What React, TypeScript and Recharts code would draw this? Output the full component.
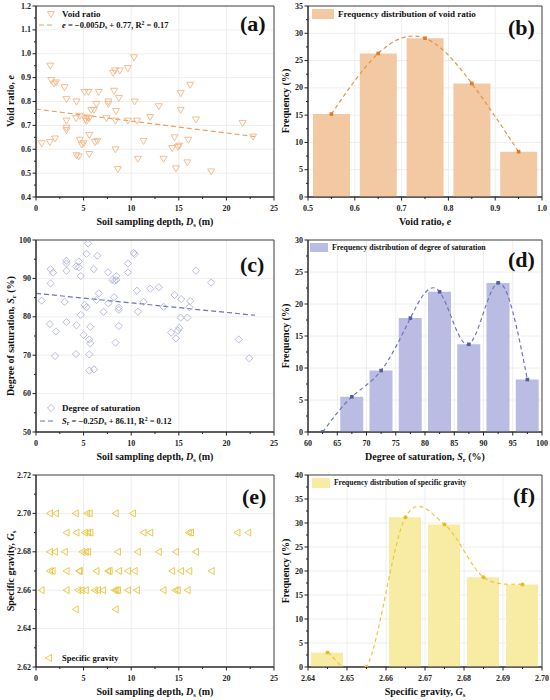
import React from 'react';
import {
  ScatterChart, Scatter, ComposedChart, Bar, Line, XAxis, YAxis,
  CartesianGrid, ReferenceLine, ReferenceArea,
} from 'recharts';

const FONT = '"Liberation Serif", "Times New Roman", serif';

// ---------- (a) void ratio vs depth ----------
const aDepth = [1.5, 1.6, 1.9, 2.1, 3.0, 3.2, 4.25, 5.1, 5.5, 6.6, 8.1, 8.3, 8.8, 9.65, 10.3, 8.2, 8.7, 10.35, 7.6, 7.6, 6.35, 5.8, 6.1, 8.4, 12.9, 15.2, 16.2, 15.2, 16.8, 12.0, 10.6, 9.65, 8.35, 7.4, 3.2, 4.2, 4.6, 5.37, 5.2, 5.3, 5.6, 3.2, 3.2, 4.6, 4.8, 5.0, 5.6, 6.2, 6.45, 1.46, 0.6, 2.0, 4.25, 4.5, 5.6, 8.35, 11.3, 14.55, 14.3, 14.9, 15.05, 16.0, 13.4, 10.7, 15.9, 14.7, 8.6, 18.4, 21.7, 22.8];
const aVoid = [0.95, 0.89, 0.875, 0.88, 0.86, 0.81, 0.8, 0.84, 0.84, 0.84, 0.92, 0.93, 0.93, 0.94, 0.985, 0.845, 0.815, 0.8, 0.8, 0.79, 0.79, 0.765, 0.765, 0.76, 0.78, 0.835, 0.87, 0.765, 0.725, 0.735, 0.72, 0.72, 0.72, 0.73, 0.72, 0.73, 0.74, 0.733, 0.725, 0.718, 0.73, 0.69, 0.68, 0.64, 0.62, 0.625, 0.66, 0.63, 0.635, 0.63, 0.625, 0.645, 0.575, 0.57, 0.58, 0.6, 0.635, 0.65, 0.605, 0.61, 0.615, 0.64, 0.56, 0.56, 0.545, 0.52, 0.517, 0.507, 0.71, 0.653];
const aFitX = [0, 23];
const aFitY = [0.768, 0.653];

// ---------- (b) void ratio histogram ----------
const bCenters = [0.55, 0.65, 0.75, 0.85, 0.95];
const bFreq = [15.2, 26.3, 29.1, 20.8, 8.3];

// ---------- (c) saturation vs depth ----------
const cDepth = [5.47, 1.53, 1.8, 3.2, 3.2, 3.2, 4.5, 4.2, 4.5, 5.3, 6.45, 4.7, 6.07, 7.57, 8.0, 8.26, 8.44, 8.44, 9.66, 9.66, 10.25, 10.36, 1.53, 10.6, 12.0, 12.9, 16.8, 18.4, 14.55, 15.25, 16.2, 16.1, 11.3, 13.4, 10.7, 8.7, 8.7, 8.2, 7.1, 6.6, 6.35, 3.0, 0.6, 5.1, 5.3, 4.7, 7.6, 15.2, 15.9, 1.46, 3.2, 4.25, 5.7, 8.7, 15.05, 14.9, 14.2, 14.7, 2.1, 5.0, 5.6, 5.7, 8.35, 21.3, 22.4, 4.2, 2.0, 5.6, 5.6, 6.1];
const cSat = [99.1, 92.4, 91.5, 94.6, 93.9, 92.0, 94.4, 93.1, 92.9, 96.4, 95.9, 90.6, 92.4, 91.6, 89.6, 89.4, 90.6, 89.6, 93.9, 91.6, 96.7, 96.3, 88.7, 86.8, 87.3, 87.7, 92.0, 88.9, 85.7, 84.6, 84.1, 82.5, 83.9, 82.6, 81.3, 82.4, 81.8, 85.1, 81.3, 86.1, 84.4, 83.9, 84.2, 83.1, 82.5, 80.5, 83.5, 79.8, 79.8, 78.1, 78.6, 77.8, 77.4, 77.6, 77.1, 76.4, 75.9, 74.4, 76.2, 75.3, 74.1, 73.1, 73.3, 74.1, 69.2, 70.3, 69.8, 70.2, 66.0, 66.3];
const cFitX = [0, 23];
const cFitY = [86.1, 80.4];

// ---------- (d) saturation histogram ----------
const dCenters = [62.5, 67.5, 72.5, 77.5, 82.5, 87.5, 92.5, 97.5];
const dFreq = [0, 5.5, 9.6, 17.8, 21.9, 13.7, 23.3, 8.2];

// ---------- (e) specific gravity vs depth ----------
const eDepth = [1.46, 2.09, 4.18, 5.37, 5.65, 8.37, 10.18,
  3.21, 4.25, 5.13, 5.47, 5.72, 11.3, 12.0, 16.04, 16.28, 21.16, 22.3,
  1.46, 1.99, 3.03, 4.88, 5.23, 5.47, 8.61, 10.7, 12.9, 14.7, 16.8,
  1.46, 1.74, 3.21, 4.53, 4.6, 6.35, 7.57, 7.74, 8.72, 9.66, 10.36, 14.3, 15.24, 16.1, 18.45,
  0.59, 3.21, 4.43, 4.78, 5.23, 6.17, 6.52, 7.04, 8.26, 8.44, 8.61, 9.66, 10.6, 13.4, 14.64, 14.89, 15.93,
  4.18, 8.37];
const eGs = [2.70, 2.70, 2.70, 2.70, 2.70, 2.70, 2.70,
  2.69, 2.69, 2.69, 2.69, 2.69, 2.69, 2.69, 2.69, 2.69, 2.69, 2.69,
  2.68, 2.68, 2.68, 2.68, 2.68, 2.68, 2.68, 2.68, 2.68, 2.68, 2.68,
  2.67, 2.67, 2.67, 2.67, 2.67, 2.67, 2.67, 2.67, 2.67, 2.67, 2.67, 2.67, 2.67, 2.67, 2.67,
  2.66, 2.66, 2.66, 2.66, 2.66, 2.66, 2.66, 2.66, 2.66, 2.66, 2.66, 2.66, 2.66, 2.66, 2.66, 2.66, 2.66,
  2.65, 2.65];

// ---------- (f) specific gravity histogram ----------
const fCenters = [2.645, 2.655, 2.665, 2.675, 2.685, 2.695];
const fFreq = [3.0, 0, 31.2, 29.7, 18.7, 17.2];

// ---------- tick labels ----------
const depthTicks = [0, 5, 10, 15, 20, 25];
const aYTicks = [0.4, 0.5, 0.6, 0.7, 0.8, 0.9, 1.0, 1.1, 1.2];
const bXTicks = [0.5, 0.6, 0.7, 0.8, 0.9, 1.0];
const bYTicks = [0, 5, 10, 15, 20, 25, 30, 35];
const cYTicks = [50, 60, 70, 80, 90, 100];
const dXTicks = [60, 65, 70, 75, 80, 85, 90, 95, 100];
const dYTicks = [0, 5, 10, 15, 20, 25, 30];
const eYTicks = [2.62, 2.64, 2.66, 2.68, 2.70, 2.72];
const fXTicks = [2.64, 2.65, 2.66, 2.67, 2.68, 2.69, 2.70];
const fYTicks = [0, 5, 10, 15, 20, 25, 30, 35, 40];

// colours
const C = {
  axis: '#222',
  grid: '#eeeeee',
  aMark: '#f3b784', aLine: '#eea062',
  bBar: '#f2c9a3', bLine: '#e6924a', bDot: '#de7a2a',
  cMark: '#b0b3df', cLine: '#6e72b8',
  dBar: '#babce4', dLine: '#7175ba', dDot: '#575ba5',
  eMark: '#e9c43c',
  fBar: '#f8eba4', fLine: '#eac842', fDot: '#e2bc22',
};

const zip = (xs: number[], ys: number[]) => xs.map((x, i) => ({ x, y: ys[i] }));
const aData = zip(aDepth, aVoid);
const cData = zip(cDepth, cSat);
const eData = zip(eDepth, eGs);
const toF = (xs: number[], ys: number[]) => xs.map((x, i) => ({ x, f: ys[i] }));
const bData = toF(bCenters, bFreq);
const dData = toF(dCenters, dFreq);
const fData = toF(fCenters, fFreq);

// Catmull-Rom style curve factory (d3 curve interface) for the (f) fitted line
function catmullRom(context: any) {
  let pts: [number, number][] = [];
  return {
    areaStart() {},
    areaEnd() {},
    lineStart() { pts = []; },
    lineEnd() {
      const n = pts.length;
      if (n === 0) return;
      context.moveTo(pts[0][0], pts[0][1]);
      for (let i = 0; i < n - 1; i++) {
        const p0 = pts[i === 0 ? 0 : i - 1];
        const p1 = pts[i];
        const p2 = pts[i + 1];
        const p3 = pts[i + 2 < n ? i + 2 : n - 1];
        context.bezierCurveTo(
          p1[0] + (p2[0] - p0[0]) / 6, p1[1] + (p2[1] - p0[1]) / 6,
          p2[0] - (p3[0] - p1[0]) / 6, p2[1] - (p3[1] - p1[1]) / 6,
          p2[0], p2[1],
        );
      }
    },
    point(x: number, y: number) { pts.push([+x, +y]); },
  };
}

function withMinors(majors: number[]) {
  const out: number[] = [];
  majors.forEach((m, i) => {
    out.push(m);
    if (i < majors.length - 1) out.push(+((m + majors[i + 1]) / 2).toFixed(6));
  });
  return out;
}
const isIn = (arr: number[], v: number) => arr.some((m) => Math.abs(m - v) < 1e-7);

function yTick(majors: number[], dec: number) {
  return (props: any) => {
    const { x, y, payload } = props;
    const v = payload.value;
    const major = isIn(majors, v);
    return (
      <g>
        <line x1={x} x2={x - (major ? 3.5 : 2)} y1={y} y2={y} stroke={C.axis} strokeWidth={1} />
        {major && (
          <text x={x - 5} y={y} textAnchor="end" dominantBaseline="central"
            fontFamily={FONT} fontWeight="bold" fontSize={8} fill={C.axis}>
            {v.toFixed(dec)}
          </text>
        )}
      </g>
    );
  };
}
function xTick(majors: number[], dec: number) {
  return (props: any) => {
    const { x, y, payload } = props;
    const v = payload.value;
    const major = isIn(majors, v);
    return (
      <g>
        <line x1={x} x2={x} y1={y} y2={y + (major ? 3.5 : 2)} stroke={C.axis} strokeWidth={1} />
        {major && (
          <text x={x} y={y + 14} textAnchor="middle"
            fontFamily={FONT} fontWeight="bold" fontSize={8} fill={C.axis}>
            {v.toFixed(dec)}
          </text>
        )}
      </g>
    );
  };
}

const triDown = (color: string) => (p: any) => (
  <path d={`M${p.cx - 3.5},${p.cy - 2.5} L${p.cx + 3.5},${p.cy - 2.5} L${p.cx},${p.cy + 3.5} Z`}
    fill="none" stroke={color} strokeWidth={0.9} />
);
const diamond = (color: string) => (p: any) => (
  <path d={`M${p.cx},${p.cy - 3.6} L${p.cx + 3.6},${p.cy} L${p.cx},${p.cy + 3.6} L${p.cx - 3.6},${p.cy} Z`}
    fill="none" stroke={color} strokeWidth={0.9} />
);
const triLeft = (color: string) => (p: any) => (
  <path d={`M${p.cx - 3.5},${p.cy} L${p.cx + 2.5},${p.cy - 3.5} L${p.cx + 2.5},${p.cy + 3.5} Z`}
    fill="none" stroke={color} strokeWidth={0.9} />
);
const squareDot = (color: string) => (p: any) => (
  <rect key={`d${p.index}`} x={p.cx - 1.8} y={p.cy - 1.8} width={3.6} height={3.6} fill={color} />
);
const circleDot = (color: string) => (p: any) => (
  <circle key={`d${p.index}`} cx={p.cx} cy={p.cy} r={2} fill={color} />
);

type PanelGeom = { left: number; top: number; width: number; height: number; margin: any; yW: number };
const ROW1 = { top: 0, mt: 6, ph: 191 };
const ROW2 = { top: 230, mt: 10, ph: 192 };
const ROW3 = { top: 465, mt: 10, ph: 192 };
const geom = (col: number, row: { top: number; mt: number; ph: number }): PanelGeom => ({
  left: col === 0 ? 0 : 275,
  top: row.top,
  width: col === 0 ? 290 : 275,
  height: row.mt + row.ph + 20 + 5,
  margin: { top: row.mt, right: col === 0 ? 16 : 8, bottom: 5, left: 0 },
  yW: col === 0 ? 36 : 33,
});

function ScatterPanel(props: {
  g: PanelGeom; data: any[]; shape: any; yDomain: [number, number]; yMajors: number[]; yDec: number;
  fitX: number[]; fitY: number[] | null; lineColor?: string;
}) {
  const { g, data, shape, yDomain, yMajors, yDec, fitX, fitY, lineColor } = props;
  return (
    <div style={{ position: 'absolute', left: g.left, top: g.top }}>
      <ScatterChart width={g.width} height={g.height} margin={g.margin}>
        <CartesianGrid stroke={C.grid} horizontalValues={yMajors} verticalValues={depthTicks} />
        <XAxis type="number" dataKey="x" domain={[0, 25]} ticks={withMinors(depthTicks)} interval={0}
          tickSize={0} tickMargin={0} tickLine={false} height={20}
          axisLine={{ stroke: C.axis }} tick={xTick(depthTicks, 0)} allowDataOverflow />
        <YAxis type="number" dataKey="y" domain={yDomain} ticks={withMinors(yMajors)} interval={0}
          tickSize={0} tickMargin={0} tickLine={false} width={g.yW}
          axisLine={{ stroke: C.axis }} tick={yTick(yMajors, yDec)} allowDataOverflow />
        <ReferenceArea x1={0} x2={25} y1={yDomain[0]} y2={yDomain[1]} fill="none" stroke="#444" strokeWidth={1} ifOverflow="visible" />
        <Scatter data={data} shape={shape} isAnimationActive={false} />
        {fitY && (
          <ReferenceLine segment={[{ x: fitX[0], y: fitY[0] }, { x: fitX[1], y: fitY[1] }]}
            stroke={lineColor} strokeWidth={1.2} strokeDasharray="5 3" ifOverflow="visible" />
        )}
      </ScatterChart>
    </div>
  );
}

function HistPanel(props: {
  g: PanelGeom; data: any[]; curveType: any; xDomain: [number, number]; xMajors: number[]; xDec: number;
  yMajors: number[]; barSize: number; barColor: string; lineColor: string; dot: any;
}) {
  const { g, data, curveType, xDomain, xMajors, xDec, yMajors, barSize, barColor, lineColor, dot } = props;
  const yDomain: [number, number] = [yMajors[0], yMajors[yMajors.length - 1]];
  return (
    <div style={{ position: 'absolute', left: g.left, top: g.top }}>
      <ComposedChart width={g.width} height={g.height} margin={g.margin} data={data}>
        <CartesianGrid stroke={C.grid} horizontalValues={yMajors} verticalValues={xMajors} />
        <XAxis type="number" dataKey="x" domain={xDomain} ticks={withMinors(xMajors)} interval={0}
          tickSize={0} tickMargin={0} tickLine={false} height={20}
          axisLine={{ stroke: C.axis }} tick={xTick(xMajors, xDec)} allowDataOverflow />
        <YAxis type="number" domain={yDomain} ticks={withMinors(yMajors)} interval={0}
          tickSize={0} tickMargin={0} tickLine={false} width={g.yW}
          axisLine={{ stroke: C.axis }} tick={yTick(yMajors, 0)} allowDataOverflow />
        <Bar dataKey="f" fill={barColor} barSize={barSize} isAnimationActive={false} />
        <Line dataKey="f" type={curveType} stroke={lineColor} strokeWidth={1.2} strokeDasharray="4 3"
          dot={dot} activeDot={false} isAnimationActive={false} />
        <ReferenceArea x1={xDomain[0]} x2={xDomain[1]} y1={yDomain[0]} y2={yDomain[1]} fill="none" stroke="#444" strokeWidth={1} ifOverflow="visible" />
      </ComposedChart>
    </div>
  );
}

const base: React.CSSProperties = {
  position: 'absolute', fontFamily: FONT, fontWeight: 'bold', lineHeight: 1,
  whiteSpace: 'nowrap', color: '#111',
};
const Sub = ({ children }: any) => (
  <span style={{ fontSize: '0.68em', verticalAlign: '-0.3em', lineHeight: 0 }}>{children}</span>
);
const Sup = ({ children }: any) => (
  <span style={{ fontSize: '0.68em', verticalAlign: '0.45em', lineHeight: 0 }}>{children}</span>
);
const TL = ({ x, y, size, children }: any) => (
  <div style={{ ...base, left: x, top: y, fontSize: size, transform: 'translateY(-50%)' }}>{children}</div>
);
const TC = ({ x, y, size, children }: any) => (
  <div style={{ ...base, left: x, top: y, fontSize: size, transform: 'translate(-50%,-50%)' }}>{children}</div>
);
const TV = ({ x, y, size, children }: any) => (
  <div style={{ ...base, left: x, top: y, fontSize: size, transform: 'translate(-50%,-50%) rotate(-90deg)' }}>{children}</div>
);
const Icon = ({ x, y, w, h, children }: any) => (
  <svg style={{ position: 'absolute', left: x, top: y, overflow: 'visible' }} width={w} height={h}>{children}</svg>
);

export default function App() {
  const ga = geom(0, ROW1), gb = geom(1, ROW1);
  const gc = geom(0, ROW2), gd = geom(1, ROW2);
  const ge = geom(0, ROW3), gf = geom(1, ROW3);
  return (
    <div style={{ position: 'absolute', left: 0, top: 0, width: 550, height: 700, background: '#fff', overflow: 'hidden' }}>
      <HistPanel g={gb} data={bData} curveType="natural" xDomain={[0.5, 1.0]} xMajors={bXTicks} xDec={1} yMajors={bYTicks}
        barSize={37} barColor={C.bBar} lineColor={C.bLine} dot={squareDot(C.bDot)} />
      <HistPanel g={gd} data={dData} curveType="natural" xDomain={[60, 100]} xMajors={dXTicks} xDec={0} yMajors={dYTicks}
        barSize={23} barColor={C.dBar} lineColor={C.dLine} dot={squareDot(C.dDot)} />
      <HistPanel g={gf} data={fData} curveType={catmullRom} xDomain={[2.64, 2.70]} xMajors={fXTicks} xDec={2} yMajors={fYTicks}
        barSize={32} barColor={C.fBar} lineColor={C.fLine} dot={circleDot(C.fDot)} />
      <ScatterPanel g={ga} data={aData} shape={triDown(C.aMark)} yDomain={[0.4, 1.2]} yMajors={aYTicks} yDec={1}
        fitX={aFitX} fitY={aFitY} lineColor={C.aLine} />
      <ScatterPanel g={gc} data={cData} shape={diamond(C.cMark)} yDomain={[50, 100]} yMajors={cYTicks} yDec={0}
        fitX={cFitX} fitY={cFitY} lineColor={C.cLine} />
      <ScatterPanel g={ge} data={eData} shape={triLeft(C.eMark)} yDomain={[2.62, 2.72]} yMajors={eYTicks} yDec={2}
        fitX={[0, 0]} fitY={null} />

      {/* axis titles */}
      <TV x={11} y={101} size={10}>Void ratio, <i>e</i></TV>
      <TC x={155} y={222} size={10}>Soil sampling depth, <i>D</i><Sub>s</Sub> (m)</TC>
      <TV x={286} y={101} size={10}>Frequency (%)</TV>
      <TC x={425} y={222} size={10}>Void ratio, <i>e</i></TC>

      <TV x={11} y={336} size={10}>Degree of saturation, <i>S</i><Sub>r</Sub> (%)</TV>
      <TC x={155} y={457} size={10}>Soil sampling depth, <i>D</i><Sub>s</Sub> (m)</TC>
      <TV x={286} y={336} size={10}>Frequency (%)</TV>
      <TC x={425} y={457} size={10}>Degree of saturation, <i>S</i><Sub>r</Sub> (%)</TC>

      <TV x={11} y={571} size={10}>Specific gravity, <i>G</i><Sub>s</Sub></TV>
      <TC x={155} y={692} size={10}>Soil sampling depth, <i>D</i><Sub>s</Sub> (m)</TC>
      <TV x={286} y={571} size={10}>Frequency (%)</TV>
      <TC x={425} y={692} size={10}>Specific gravity, <i>G</i><Sub>s</Sub></TC>

      {/* panel letters */}
      <TL x={240} y={24} size={22}>(a)</TL>
      <TL x={508} y={28} size={22}>(b)</TL>
      <TL x={240} y={265} size={22}>(c)</TL>
      <TL x={508} y={260} size={22}>(d)</TL>
      <TL x={242} y={497} size={22}>(e)</TL>
      <TL x={513} y={496} size={22}>(f)</TL>

      {/* legend (a) */}
      <Icon x={47} y={10} w={8} h={8}>
        <path d="M0.5,1.5 L7.5,1.5 L4,7.5 Z" fill="none" stroke={C.aMark} strokeWidth={0.9} />
      </Icon>
      <TL x={62} y={14} size={9}>Void ratio</TL>
      <Icon x={39} y={24} w={16} h={2}>
        <line x1={0} x2={16} y1={1} y2={1} stroke={C.aLine} strokeWidth={1.2} strokeDasharray="5 3" />
      </Icon>
      <TL x={62} y={25} size={8.5}><i>e</i> = −0.005<i>D</i><Sub>s</Sub> + 0.77, R<Sup>2</Sup> = 0.17</TL>

      {/* legend (b) */}
      <div style={{ position: 'absolute', left: 312, top: 9, width: 22, height: 10, background: C.bBar }} />
      <TL x={338} y={14} size={9}>Frequency distribution of void ratio</TL>

      {/* legend (c) */}
      <Icon x={47} y={404} w={8} h={8}>
        <path d="M4,0.4 L7.6,4 L4,7.6 L0.4,4 Z" fill="none" stroke={C.cMark} strokeWidth={0.9} />
      </Icon>
      <TL x={62} y={408} size={9}>Degree of saturation</TL>
      <Icon x={40} y={420} w={15} h={2}>
        <line x1={0} x2={15} y1={1} y2={1} stroke={C.cLine} strokeWidth={1.2} strokeDasharray="5 3" />
      </Icon>
      <TL x={62} y={421} size={8.5}><i>S</i><Sub>r</Sub> = −0.25<i>D</i><Sub>s</Sub> + 86.11, R<Sup>2</Sup> = 0.12</TL>

      {/* legend (d) */}
      <div style={{ position: 'absolute', left: 310, top: 243, width: 18, height: 9, background: C.dBar }} />
      <TL x={332} y={248} size={7.8}>Frequency distribution of degree of saturation</TL>

      {/* legend (e) */}
      <Icon x={45} y={654} w={8} h={8}>
        <path d="M0.5,4 L6.5,0.5 L6.5,7.5 Z" fill="none" stroke={C.eMark} strokeWidth={0.9} />
      </Icon>
      <TL x={62} y={658} size={8.5}>Specific gravity</TL>

      {/* legend (f) */}
      <div style={{ position: 'absolute', left: 312, top: 478, width: 18, height: 10, background: C.fBar }} />
      <TL x={334} y={483} size={7.5}>Frequency distribution of specific gravity</TL>
    </div>
  );
}
